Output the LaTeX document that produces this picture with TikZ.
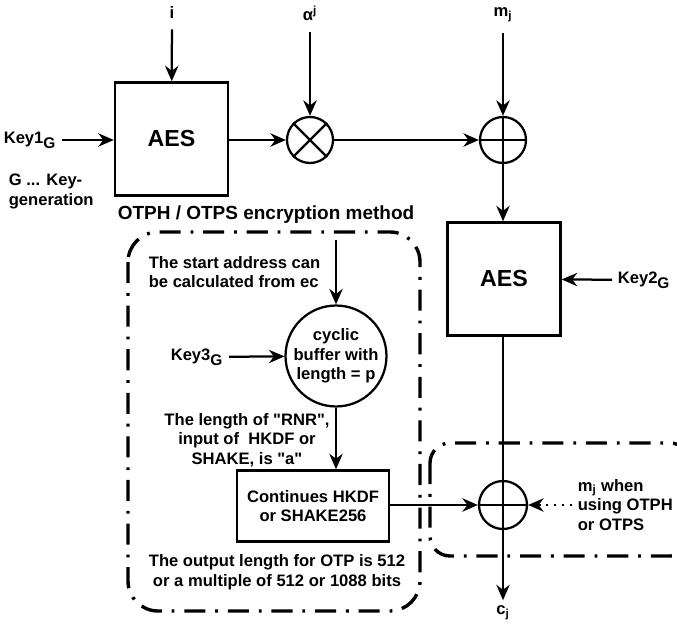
\documentclass[tikz,border=0pt]{standalone}
\usepackage{fontspec}
\setmainfont{Liberation Sans}
\usetikzlibrary{arrows.meta}

\begin{document}
\begin{tikzpicture}[x=0.025cm, y=-0.025cm, >={Stealth[length=11pt,width=9.5pt]}, line width=1.6pt,
  every node/.style={font=\bfseries\fontsize{11.8}{14}\selectfont},
  block/.style={draw, line width=1.6pt, align=center, inner sep=2pt},
  aesbox/.style={block, minimum width=2.83cm, minimum height=2.83cm, font=\bfseries\fontsize{16.5}{18}\selectfont},
  opcirc/.style={draw, circle, line width=1.6pt, minimum size=1.15cm, inner sep=0pt},
  frame/.style={line width=2.4pt, dash pattern=on 15pt off 7pt on 2pt off 7pt}]
  \useasboundingbox (0,0) rectangle (677,629);
  \clip (0,0) rectangle (677,629);
  % upper chain: AES -> multiply -> xor
  \node[aesbox] (aes1) at (171.5,139) {AES};
  \node (i) at (172,12) {i};
  \draw[->, shorten <=4pt] (i) -- (aes1);
  \node[anchor=east] (key1) at (62,140) {Key1\textsubscript{\fontsize{11}{12}\selectfont G}};
  \draw[->] (key1) -- (key1 -| aes1.west);
  \node[anchor=north west, align=left] (gen) at (3,168) {G ... Key-\\generation};
  \node[opcirc] (mul) at (310,140) {};
  \draw (mul.north west) -- (mul.south east) (mul.north east) -- (mul.south west);
  \node (alpha) at (310,13) {α\textsuperscript{j}};
  \draw[->, shorten <=4pt] (alpha) -- (mul);
  \draw[->] (aes1.east |- mul) -- (mul);
  \node[opcirc] (add1) at (503,140) {};
  \draw (add1.north) -- (add1.south) (add1.west) -- (add1.east);
  \node (mj) at (503,15) {m\textsubscript{j}};
  \draw[->, shorten <=4pt] (mj) -- (add1);
  \draw[->] (mul) -- (add1);
  % second AES
  \node[aesbox] (aes2) at (504,279) {AES};
  \draw[->] (add1) -- (add1 |- aes2.north);
  \node[anchor=west] (key2) at (612,280) {Key2\textsubscript{\fontsize{11}{12}\selectfont G}};
  \draw[->] (key2) -- (aes2);
  % output xor
  \node[opcirc, minimum size=1.2cm] (add2) at (503,505) {};
  \draw (add2.north) -- (add2.south) (add2.west) -- (add2.east);
  \draw (aes2.south -| add2) -- (add2);
  \node (cj) at (503,613) {c\textsubscript{j}};
  \draw[->] (add2) -- (cj);
  \node[anchor=west, align=left] (mjw) at (572,505) {m\textsubscript{j} when\\using OTPH\\or OTPS};
  \draw[->, dash pattern=on 1.6pt off 4pt] (mjw) -- (add2);
  % OTPH / OTPS part
  \node[font=\bfseries\fontsize{13.5}{16}\selectfont] (title) at (266,215) {OTPH / OTPS encryption method};
  \node[anchor=west, align=left] (start) at (143,272) {The start address can\\be calculated from ec};
  \node[opcirc, minimum size=2.25cm, align=center, font=\bfseries\fontsize{11.8}{14}\selectfont] (buf) at (336,356) {cyclic\\buffer with\\length = p};
  \coordinate (bufin) at (336,240);
  \draw[->] (bufin) -- (buf);
  \node[anchor=east] (key3) at (229,357) {Key3\textsubscript{\fontsize{11}{12}\selectfont G}};
  \draw[->] (key3) -- (buf);
  \node[align=center] (rnr) at (247,440) {The length of \textquotedbl RNR\textquotedbl,\\input of \ HKDF or\\SHAKE, is \textquotedbl a\textquotedbl};
  \node[block, minimum width=3.8cm, minimum height=1.78cm] (hkdf) at (313,506) {Continues HKDF\\or SHAKE256};
  \draw[->] (buf) -- (buf |- hkdf.north);
  \draw[->] (hkdf.east |- add2) -- (add2);
  \node[align=center] (outlen) at (277,572) {The output length for OTP is 512\\or a multiple of 512 or 1088 bits};
  % dash-dot frames
  \draw[frame, rounded corners=0.75cm] (128,232) rectangle (420,611);
  \draw[frame, rounded corners=0.5cm] (430,443) rectangle (690,556);
\end{tikzpicture}
\end{document}
